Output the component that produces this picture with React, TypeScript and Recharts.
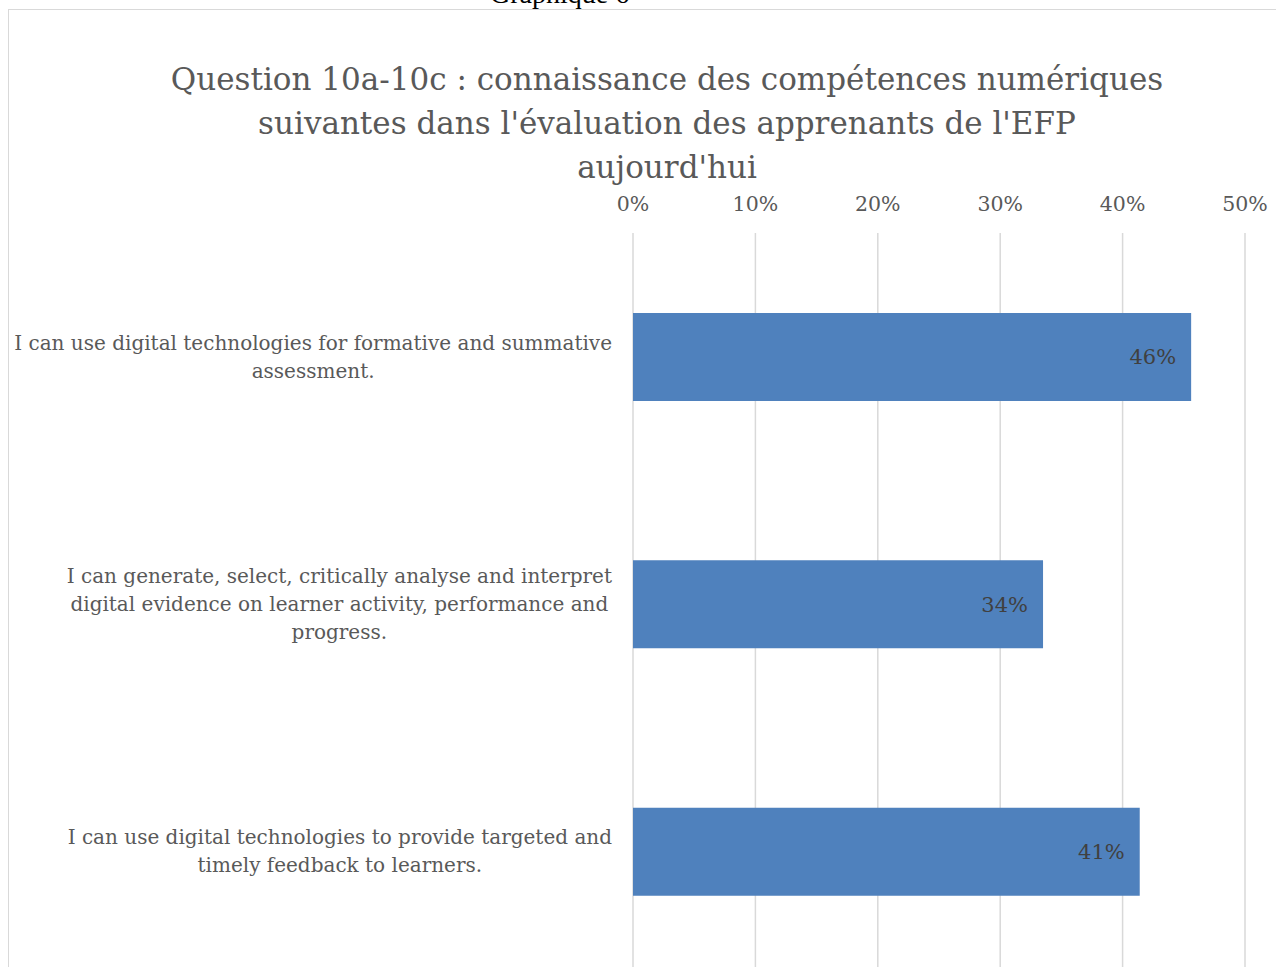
import React from 'react'
import { BarChart, Bar, XAxis, YAxis, CartesianGrid, LabelList } from 'recharts'

const TITLE_LINES = [
  'Question 10a-10c : connaissance des compétences numériques',
  "suivantes dans l'évaluation des apprenants de l'EFP",
  "aujourd'hui",
]

const CATEGORY_LINES = [
  ['I can use digital technologies for formative and summative', 'assessment.'],
  [
    'I can generate, select, critically analyse and interpret',
    'digital evidence on learner activity, performance and',
    'progress.',
  ],
  ['I can use digital technologies to provide targeted and', 'timely feedback to learners.'],
]

const CATEGORIES = CATEGORY_LINES.map((lines) => lines.join(' '))
const VALUES = [0.456, 0.335, 0.414]
const X_TICKS = [0, 0.1, 0.2, 0.3, 0.4, 0.5]

const data = CATEGORIES.map((name, i) => ({ name, value: VALUES[i] }))

const FONT = '"DejaVu Serif", serif'
const LABEL_SIZE = 20
const LINE_H = 28
const TEXT_GRAY = '#595959'

const pct = (v: number) => `${Math.round(v * 100)}%`

let measureCtx: CanvasRenderingContext2D | null = null
function textWidth(s: string, size: number) {
  if (!measureCtx) measureCtx = document.createElement('canvas').getContext('2d')
  if (!measureCtx) return s.length * size * 0.55
  measureCtx.font = `${size}px ${FONT}`
  return measureCtx.measureText(s).width
}

// multi-line category label, lines centred on each other, block right-aligned to the axis
function CategoryTick({ x, y, payload }: any) {
  const idx = CATEGORIES.indexOf(payload.value)
  const lines = idx >= 0 ? CATEGORY_LINES[idx] : [String(payload.value)]
  const w = Math.max(...lines.map((l) => textWidth(l, LABEL_SIZE)))
  const cx = x - w / 2
  const first = y - ((lines.length - 1) * LINE_H) / 2
  return (
    <text
      textAnchor="middle"
      dominantBaseline="central"
      fill={TEXT_GRAY}
      fontSize={LABEL_SIZE}
      fontFamily={FONT}
    >
      {lines.map((l, i) => (
        <tspan key={i} x={cx} y={first + i * LINE_H}>
          {l}
        </tspan>
      ))}
    </text>
  )
}

export default function App() {
  return (
    <div
      style={{
        position: 'fixed',
        left: 0,
        top: 0,
        width: 1276,
        height: 967,
        overflow: 'hidden',
        background: '#fff',
      }}
    >
      <div
        style={{
          position: 'absolute',
          left: 490,
          top: -20,
          fontFamily: '"Liberation Serif", serif',
          fontSize: 28,
          lineHeight: 1,
          color: '#000',
          whiteSpace: 'nowrap',
        }}
      >
        Graphique 6
      </div>
      <div
        style={{
          position: 'absolute',
          left: 8,
          top: 9,
          width: 2000,
          height: 2000,
          border: '1px solid #d9d9d9',
        }}
      />
      <div style={{ position: 'absolute', left: 0, top: 0 }}>
        <BarChart
          width={1290}
          height={990}
          data={data}
          layout="vertical"
          margin={{ top: 191, right: 45, left: 0, bottom: 15 }}
        >
          <CartesianGrid horizontal={false} stroke="#d9d9d9" strokeWidth={1.5} />
          <XAxis
            type="number"
            orientation="top"
            domain={[0, 0.5]}
            ticks={X_TICKS}
            tickFormatter={pct}
            axisLine={false}
            tickLine={false}
            tickSize={0}
            tickMargin={22}
            height={42}
            tick={{ fill: TEXT_GRAY, fontSize: 20.5, fontFamily: FONT }}
          />
          <YAxis
            type="category"
            dataKey="name"
            width={633}
            axisLine={false}
            tickLine={false}
            tickSize={0}
            tickMargin={21}
            tick={<CategoryTick />}
          />
          <Bar dataKey="value" fill="#4f81bd" barSize={88} isAnimationActive={false}>
            <LabelList
              dataKey="value"
              position="insideRight"
              offset={15}
              formatter={(v: any) => pct(Number(v))}
              fill="#404040"
              fontSize={21}
              fontFamily={FONT}
            />
          </Bar>
        </BarChart>
      </div>
      <div
        style={{
          position: 'absolute',
          left: 0,
          top: 57,
          width: 1334,
          textAlign: 'center',
          fontFamily: FONT,
          fontSize: 31,
          lineHeight: '44px',
          color: TEXT_GRAY,
          whiteSpace: 'nowrap',
        }}
      >
        {TITLE_LINES.map((l, i) => (
          <div key={i}>{l}</div>
        ))}
      </div>
    </div>
  )
}
